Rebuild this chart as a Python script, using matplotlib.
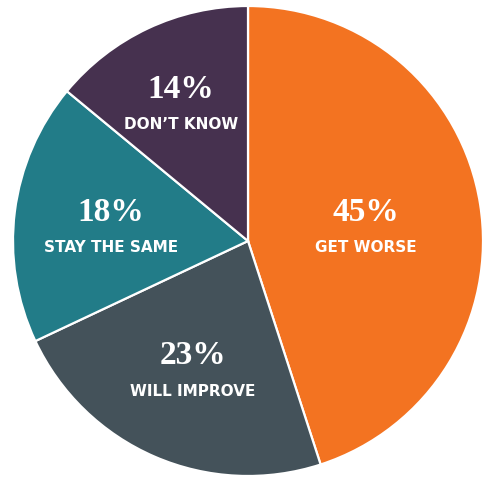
import matplotlib
matplotlib.use('Agg')
import matplotlib.pyplot as plt

# Antworten und Anteile (%)
categories = ['GET WORSE', 'WILL IMPROVE', 'STAY THE SAME', "DON\u2019T KNOW"]
shares = [45, 23, 18, 14]
colors = ['#F37321', '#44525A', '#227C88', '#46314F']

# Textpositionen in Pixeln (x, y von oben)
label_pos = [(366, 230), (193, 374), (111, 230), (181, 107)]

W, H = 482, 478
fig = plt.figure(figsize=(W / 100, H / 100), dpi=100)
ax = fig.add_axes([0, 0, 1, 1])
ax.set_xlim(0, W)
ax.set_ylim(0, H)
ax.axis('off')

cx, cy, r = 248, H - 241, 235
ax.pie(shares, colors=colors, startangle=90, counterclock=False,
       center=(cx, cy), radius=r, frame=True,
       wedgeprops=dict(edgecolor='white', linewidth=1.6))
ax.set_xlim(0, W)
ax.set_ylim(0, H)
ax.axis('off')

for cat, val, (x, y) in zip(categories, shares, label_pos):
    ax.text(x, H - y + 18, f'{val}%', ha='center', va='center',
            family='Liberation Serif', fontweight='bold', fontsize=24, color='white')
    ax.text(x, H - y - 17, cat, ha='center', va='center',
            family='DejaVu Sans', fontweight='bold', fontsize=11, color='white')

fig.savefig('out.png', dpi=100)
